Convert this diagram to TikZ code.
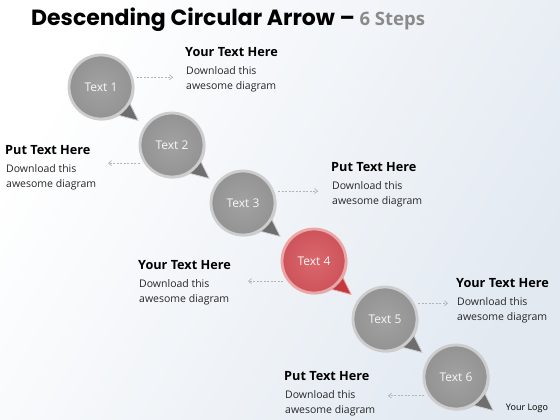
\documentclass[tikz,border=0pt]{standalone}
\usepackage{fontspec}
\setmainfont{Open Sans}
\newfontfamily\titlefont{Poppins}
\usetikzlibrary{arrows.meta,calc,shadows,positioning}

\definecolor{bgblue}{HTML}{E2E9F1}
\definecolor{titlegray}{HTML}{8A8A8A}
\definecolor{ballgray}{HTML}{A2A2A2}
\definecolor{balldark}{HTML}{939393}
\definecolor{rimgray}{HTML}{CDCDCD}
\definecolor{tailgray}{HTML}{6E6E6E}
\definecolor{ballred}{HTML}{DA686D}
\definecolor{reddark}{HTML}{CD5359}
\definecolor{rimred}{HTML}{EBA6A8}
\definecolor{tailred}{HTML}{C23A40}
\definecolor{conngray}{HTML}{B4B4B4}

\pgfdeclarelayer{back}
\pgfsetlayers{back,main}

\begin{document}
\begin{tikzpicture}[x=1pt,y=-1pt,
  bubble/.style={circle, minimum size=64pt, draw=rimgray, line width=2.8pt,
    inner color=ballgray, outer color=balldark, text=white!94!gray,
    font=\fontsize{12}{14}\selectfont,
    drop shadow={shadow xshift=1.5pt, shadow yshift=-1.5pt, opacity=0.3}},
  redbubble/.style={bubble, draw=rimred, inner color=ballred, outer color=reddark},
  tail/.style={fill=tailgray, draw=rimgray, line width=0.8pt, line join=round},
  redtail/.style={tail, fill=tailred, draw=rimred},
  conn/.style={draw=conngray, dash pattern=on 2pt off 1.5pt, line width=0.7pt,
    shorten <=4pt, -{Straight Barb[length=3pt,width=5pt]}},
  head/.style={anchor=west, inner sep=0pt, font=\fontsize{12.7}{15}\selectfont\bfseries},
  body/.style={anchor=north west, inner sep=0pt, align=left,
    font=\fontsize{10.5}{15}\selectfont, text=black!85},
  node distance=58pt and 71pt, on grid]

 % background
 \begin{pgfonlayer}{back}
  \shade[left color=white, right color=bgblue, shading angle=60] (0,0) rectangle (560,420);
 \end{pgfonlayer}
 \useasboundingbox (0,0) rectangle (560,420);

 \node[anchor=west, inner sep=0pt, font=\titlefont\fontsize{22}{26}\selectfont\bfseries] (title) at (31,20)
   {Descending Circular Arrow – \textcolor{titlegray}{\rmfamily\fontsize{18.5}{20}\selectfont 6 Steps}};

 % the six bubbles
 \node[bubble]    (c1) at (101,87)          {Text 1};
 \node[bubble]    (c2) [below right=of c1] {Text 2};
 \node[bubble]    (c3) [below right=of c2] {Text 3};
 \node[redbubble] (c4) [below right=of c3] {Text 4};
 \node[bubble]    (c5) [below right=of c4] {Text 5};
 \node[bubble]    (c6) [below right=of c5] {Text 6};

 % tails behind the bubbles
 \begin{pgfonlayer}{back}
  \foreach \i in {1,2,3,5,6}
   \draw[tail] (c\i.-30) -- ($(c\i.center)+(42:50)$) -- (c\i.-58) -- cycle;
  \draw[redtail] (c4.-30) -- ($(c4.center)+(42:50)$) -- (c4.-58) -- cycle;
 \end{pgfonlayer}

 % text blocks
 \node[head] (h1) at (185,52)  {Your Text Here};
 \node[body] (b1) at ($(h1.south west)+(1,10)$) {Download this\\awesome diagram};
 \node[head] (h2) at (5,150)   {Put Text Here};
 \node[body] (b2) at ($(h2.south west)+(1,10)$) {Download this\\awesome diagram};
 \node[head] (h3) at (331,167) {Put Text Here};
 \node[body] (b3) at ($(h3.south west)+(1,10)$) {Download this\\awesome diagram};
 \node[head] (h4) at (138,265) {Your Text Here};
 \node[body] (b4) at ($(h4.south west)+(1,10)$) {Download this\\awesome diagram};
 \node[head] (h5) at (456,283) {Your Text Here};
 \node[body] (b5) at ($(h5.south west)+(1,10)$) {Download this\\awesome diagram};
 \node[head] (h6) at (284,376) {Put Text Here};
 \node[body] (b6) at ($(h6.south west)+(1,10)$) {Download this\\awesome diagram};

 \node[inner sep=0pt, font=\fontsize{9}{10}\selectfont] (logo) at (527,408) {Your Logo};

 % dashed pointers
 \coordinate (e1) at (173,77);
 \coordinate (e2) at (108,163);
 \coordinate (e3) at (318,191);
 \coordinate (e4) at (248,281);
 \coordinate (e5) at (448,303);
 \coordinate (e6) at (388,395);
 \draw[conn] (c1.17)  -- (c1.17 -| e1);
 \draw[conn] (c2.213) -- (c2.213 -| e2);
 \draw[conn] (c3.21)  -- (c3.21 -| e3);
 \draw[conn] (c4.217) -- (c4.217 -| e4);
 \draw[conn] (c5.28)  -- (c5.28 -| e5);
 \draw[conn] (c6.214) -- (c6.214 -| e6);
\end{tikzpicture}
\end{document}
